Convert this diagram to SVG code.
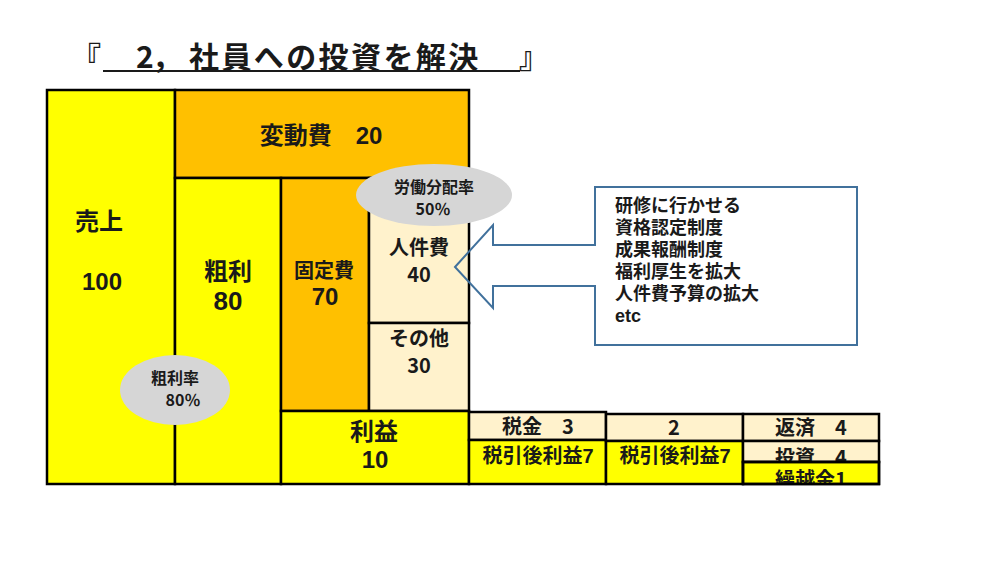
<svg xmlns="http://www.w3.org/2000/svg" width="1000" height="563" viewBox="0 0 1000 563">
  <style>
    text { font-family: "Liberation Sans", "Noto Sans CJK JP", sans-serif; fill: #1a1a1a; text-anchor: middle; font-weight: bold; }
    .box { stroke: #000; stroke-width: 2.5; }
    .y { fill: #FFFF00; }
    .o { fill: #FFC000; }
    .c { fill: #FFF2CC; }
    .ell { fill: #D6D6D6; stroke: none; }
    .big { font-size: 24px; }
    .mid { font-size: 20px; }
    .sm { font-size: 20px; font-family: "Noto Sans CJK JP", sans-serif; }
    .el { font-size: 16px; font-family: "Noto Sans CJK JP", sans-serif; }
    .cl { font-size: 18px; text-anchor: start; }
    .tt { font-size: 30px; font-family: "Noto Sans CJK JP", sans-serif; text-anchor: start; }
  </style>
  <defs>
    <clipPath id="clipT"><rect x="743" y="441" width="136" height="21"/></clipPath>
    <clipPath id="clipK"><rect x="743" y="462" width="136" height="21"/></clipPath>
  </defs>
  <rect width="1000" height="563" fill="#fff"/>

  <g id="title">
    <text class="tt" x="71" y="68">『</text>
    <text class="tt" x="136" y="68">2</text>
    <text class="tt" x="152" y="68">，</text>
    <text class="tt" x="189" y="68" style="letter-spacing:2.4px">社員への投資を解決</text>
    <text class="tt" x="519" y="68">』</text>
    <line x1="103" y1="71" x2="520" y2="71" stroke="#1a1a1a" stroke-width="2"/>
  </g>

  <g id="uriage">
    <rect class="box y" x="47" y="90" width="128" height="394"/>
    <text class="big" x="99" y="230">売上</text>
    <text class="big" x="102" y="290">100</text>
  </g>
  <g id="hendohi">
    <rect class="box o" x="175" y="90" width="294" height="88"/>
    <text class="big" x="321" y="144">変動費　20</text>
  </g>
  <g id="arari">
    <rect class="box y" x="175" y="178" width="106" height="306"/>
    <text class="big" x="228" y="280">粗利</text>
    <text class="big" x="228" y="310" style="font-size:26px">80</text>
  </g>
  <g id="koteihi">
    <rect class="box o" x="281" y="178" width="88" height="233"/>
    <text class="mid" x="324" y="278">固定費</text>
    <text class="big" x="325" y="305">70</text>
  </g>
  <g id="jinkenhi">
    <rect class="box c" x="369" y="178" width="100" height="145"/>
    <text class="sm" x="419" y="255">人件費</text>
    <text class="sm" x="419" y="282">40</text>
  </g>
  <g id="sonota">
    <rect class="box c" x="369" y="323" width="100" height="88"/>
    <text class="sm" x="419" y="346">その他</text>
    <text class="sm" x="419" y="373">30</text>
  </g>
  <g id="rieki">
    <rect class="box y" x="281" y="411" width="188" height="73"/>
    <text class="big" x="374" y="440">利益</text>
    <text class="big" x="375" y="468">10</text>
  </g>
  <g id="zeikin">
    <rect class="box c" x="469" y="412" width="137" height="28"/>
    <text class="sm" x="538" y="434">税金　3</text>
  </g>
  <g id="zeibiki1">
    <rect class="box y" x="469" y="440" width="137" height="44"/>
    <text class="mid" x="538" y="463">税引後利益7</text>
  </g>
  <g id="two">
    <rect class="box c" x="606" y="414" width="137" height="27"/>
    <text class="sm" x="674" y="435">2</text>
  </g>
  <g id="zeibiki2">
    <rect class="box y" x="606" y="441" width="137" height="43"/>
    <text class="mid" x="675" y="463">税引後利益7</text>
  </g>
  <g id="hensai">
    <rect class="box c" x="743" y="414" width="136" height="27"/>
    <text class="sm" x="811" y="435">返済　4</text>
  </g>
  <g id="toshi">
    <rect class="box c" x="743" y="441" width="136" height="21"/>
    <text class="sm" x="811" y="465" clip-path="url(#clipT)">投資　4</text>
  </g>
  <g id="kurikoshi">
    <rect class="box y" x="743" y="462" width="136" height="22"/>
    <text class="sm" x="811" y="487" clip-path="url(#clipK)">繰越金1</text>
    <rect x="743" y="462" width="136" height="22" fill="none" stroke="#000" stroke-width="2.5"/>
  </g>

  <g id="rodobunpairitsu">
    <ellipse class="ell" cx="434" cy="195" rx="78" ry="31"/>
    <text class="el" x="434" y="193">労働分配率</text>
    <text class="el" x="433" y="215">50％</text>
  </g>
  <g id="ararimritsu">
    <ellipse class="ell" cx="175" cy="390" rx="55" ry="35"/>
    <text class="el" x="175" y="384">粗利率</text>
    <text class="el" x="183" y="406">80％</text>
  </g>

  <g id="callout">
    <path d="M455,267 L493,225 L493,245 L595,245 L595,187 L857,187 L857,345 L595,345 L595,286 L493,286 L493,308 Z" fill="none" stroke="#41719C" stroke-width="2"/>
    <text class="cl" x="615" y="212">研修に行かせる</text>
    <text class="cl" x="615" y="234">資格認定制度</text>
    <text class="cl" x="615" y="256">成果報酬制度</text>
    <text class="cl" x="615" y="278">福利厚生を拡大</text>
    <text class="cl" x="615" y="300">人件費予算の拡大</text>
    <text class="cl" x="615" y="322">etc</text>
  </g>

  <g id="connectors"></g>
</svg>
